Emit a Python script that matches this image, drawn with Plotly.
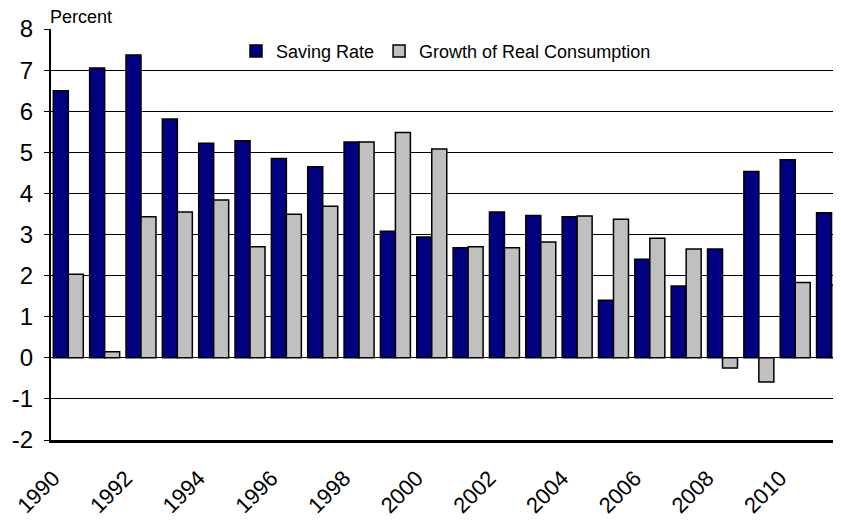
import plotly.graph_objects as go

years = [1990, 1991, 1992, 1993, 1994, 1995, 1996, 1997, 1998, 1999, 2000,
         2001, 2002, 2003, 2004, 2005, 2006, 2007, 2008, 2009, 2010, 2011]
saving_rate = [6.50, 7.05, 7.37, 5.81, 5.22, 5.28, 4.85, 4.65, 5.25, 3.08, 2.94,
               2.68, 3.55, 3.46, 3.43, 1.40, 2.40, 1.75, 2.65, 4.53, 4.82, 3.53]
consumption_growth = [2.03, 0.15, 3.43, 3.55, 3.84, 2.70, 3.49, 3.69, 5.25, 5.48, 5.08,
                      2.70, 2.68, 2.82, 3.45, 3.37, 2.91, 2.65, -0.25, -0.59, 1.83, 1.77]
tick_years = [1990, 1992, 1994, 1996, 1998, 2000, 2002, 2004, 2006, 2008, 2010]
y_ticks = [-2, -1, 0, 1, 2, 3, 4, 5, 6, 7, 8]

FONT = 'Arial, Liberation Sans, sans-serif'

# the page body keeps its default 8px margin, so the figure is 8px smaller
figure = go.Figure(layout=dict(
    width=833,
    height=515,
    margin=dict(l=43, r=0, t=21, b=83),
    paper_bgcolor='white',
    plot_bgcolor='white',
    font=dict(family=FONT, color='black'),
    barmode='group',
    bargap=0.175,
    bargroupgap=0,
    showlegend=True,
    legend=dict(
        orientation='h',
        x=0.5, xanchor='center',
        y=0.946, yanchor='middle',
        bgcolor='rgba(0,0,0,0)',
        font=dict(size=18, family=FONT),
        itemwidth=30,
    ),
    xaxis=dict(
        range=[1989.524, 2011.26],
        tickvals=tick_years,
        ticktext=[str(y) for y in tick_years],
        tickangle=-45,
        tickfont=dict(size=22, family=FONT),
        ticklabelstandoff=14,
        ticklabelshift=-15,
        ticklabeloverflow='allow',
        showgrid=False,
        zeroline=False,
        showline=True,
        linecolor='black',
        linewidth=2.5,
        ticks='',
    ),
    yaxis=dict(
        range=[-2, 8],
        tickvals=y_ticks,
        ticktext=[str(v) for v in y_ticks],
        tickfont=dict(size=24, family=FONT),
        ticklabelstandoff=6,
        showgrid=True,
        gridcolor='black',
        gridwidth=1,
        zeroline=True,
        zerolinecolor='black',
        zerolinewidth=1,
        showline=True,
        linecolor='black',
        linewidth=2,
        ticks='outside',
        ticklen=5,
        tickcolor='black',
    ),
    annotations=[dict(
        text='Percent',
        xref='paper', yref='paper',
        x=0, y=1,
        xanchor='left', yanchor='bottom',
        xshift=-3,
        showarrow=False,
        font=dict(size=18, family=FONT),
    )],
)).add_trace(go.Bar(
    name='Saving Rate',
    x=years,
    y=saving_rate,
    marker=dict(color='#000080', line=dict(color='black', width=1.5)),
)).add_trace(go.Bar(
    name='Growth of Real Consumption',
    x=years,
    y=consumption_growth,
    marker=dict(color='#C0C0C0', line=dict(color='black', width=1.5)),
))

figure.write_html('out.html')
